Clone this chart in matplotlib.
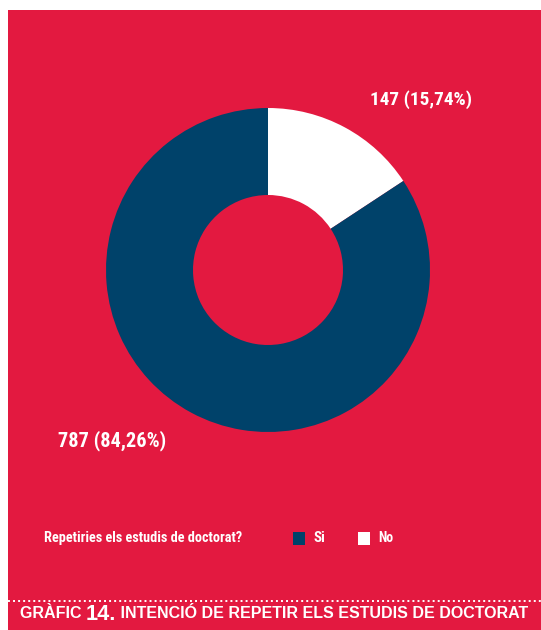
import matplotlib
matplotlib.use("Agg")
import matplotlib.pyplot as plt
from matplotlib.lines import Line2D
from matplotlib.patches import Rectangle
from matplotlib import font_manager

categories = ["Si", "No"]
values = [787, 147]
percent_labels = ["84,26%", "15,74%"]
question = "Repetiries els estudis de doctorat?"
caption_parts = ["GRÀFIC ", "14.", " INTENCIÓ DE REPETIR ELS ESTUDIS DE DOCTORAT"]

RED = "#E31940"
NAVY = "#00426A"
WHITE = "#FFFFFF"
W, H = 541, 630

names = {f.name for f in font_manager.fontManager.ttflist}
COND_FAMILY = "DejaVu Sans"
COND_STRETCH = "condensed"
for cand in ["Liberation Sans Narrow", "Roboto Condensed", "Open Sans Condensed"]:
    if cand in names:
        COND_FAMILY = cand
        break

fig = plt.figure(figsize=(W / 100, H / 100), dpi=100)
fig.patch.set_facecolor("white")
renderer = fig.canvas.get_renderer()

def fx(x):
    return x / W

def fy(y):
    return 1 - y / H

def fit_text(x, y, s, target_w, **kw):
    t = fig.text(fx(x), fy(y), s, **kw)
    w = t.get_window_extent(renderer=renderer).width
    t.set_fontsize(t.get_fontsize() * target_w / w)
    return t

# red background panel
fig.patches.append(Rectangle((fx(8), 0), 1 - fx(8), fy(10), transform=fig.transFigure,
                             facecolor=RED, edgecolor="none", zorder=-5))

# donut
cx, cy, r = 268, 270, 162
ax = fig.add_axes([fx(cx - r), fy(cy + r), 2 * r / W, 2 * r / H])
ax.set_facecolor("none")
vals = [values[1], values[0]]
cols = [WHITE, NAVY]
ax.pie(vals, colors=cols, startangle=90, counterclock=False, radius=1.0,
       wedgeprops=dict(width=1 - 75 / 162, edgecolor="none"))
ax.set_xlim(-1, 1)
ax.set_ylim(-1, 1)
ax.set_aspect("equal")
ax.axis("off")

lab_kw = dict(color="white", fontsize=14, fontweight="bold", family=COND_FAMILY,
              fontstretch=COND_STRETCH, va="center", ha="left")
fit_text(370, 100, f"{values[1]} ({percent_labels[1]})", 102, **lab_kw)
fit_text(58, 441, f"{values[0]} ({percent_labels[0]})", 108, **lab_kw)

# legend
leg_kw = dict(color="white", fontsize=10, fontweight="bold", family=COND_FAMILY,
              fontstretch=COND_STRETCH, va="center", ha="left")
fit_text(44, 538, question, 200, **leg_kw)
fig.patches.append(Rectangle((fx(293), fy(545)), 12 / W, 13 / H, transform=fig.transFigure,
                             facecolor=NAVY, edgecolor="none"))
fit_text(313, 538, categories[0], 12, **leg_kw)
fig.patches.append(Rectangle((fx(358), fy(545)), 12 / W, 13 / H, transform=fig.transFigure,
                             facecolor=WHITE, edgecolor="none"))
fit_text(378, 538, categories[1], 15, **leg_kw)

# dotted separator
fig.lines.append(Line2D([fx(8), 1], [fy(601), fy(601)], transform=fig.transFigure,
                        color="white", lw=1.4, linestyle=(0, (1, 1.6))))

# caption: fit the whole line to the reference width
base = 10.0
rel = [1.0, 1.35, 1.0]
cap_kw = dict(color="white", fontweight="bold", family="Liberation Sans",
              ha="left", va="center")
parts = []
x = fx(20)
for part, k in zip(caption_parts, rel):
    t = fig.text(x, fy(614), part, fontsize=base * k, **cap_kw)
    parts.append(t)
    x += t.get_window_extent(renderer=renderer).width / W
total = (x - fx(20)) * W
scale = 507 / total
x = fx(20)
for t, k in zip(parts, rel):
    t.set_fontsize(base * k * scale)
    t.set_x(x)
    x += t.get_window_extent(renderer=renderer).width / W

fig.savefig("out.png", dpi=100, facecolor=fig.get_facecolor())
